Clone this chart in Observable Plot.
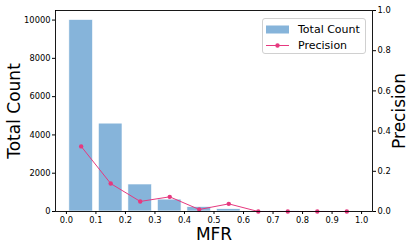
<!DOCTYPE html>
<html>
<head>
<meta charset="utf-8">
<script src="https://cdn.jsdelivr.net/npm/d3@7"></script>
<script src="https://cdn.jsdelivr.net/npm/@observablehq/plot@0.6"></script>
<style>
  body { margin: 0; background: #fff; font-family: "DejaVu Sans", sans-serif; }
  #wrap { position: relative; width: 415px; height: 249px; }
  #legend { position: absolute; left: 262px; top: 18px; width: 104px; height: 36px;
    border: 1px solid #d0d0d0; border-radius: 3px; background: rgba(255,255,255,0.8);
    font: 11px "DejaVu Sans", sans-serif; color: #000; box-sizing: border-box; }
  #legend .row { position: absolute; left: 3px; height: 12px; display: flex; align-items: center; }
  #legend .row span { margin-left: 9px; white-space: nowrap; }
</style>
</head>
<body>
<div id="wrap"></div>
<script>
const mfr = [0.05, 0.15, 0.25, 0.35, 0.45, 0.55, 0.65, 0.75, 0.85, 0.95];
const totalCount = [10000, 4590, 1410, 620, 230, 120, 30, 10, 5, 2];
const precision = [0.324, 0.139, 0.05, 0.073, 0.01, 0.038, 0.0, 0.0, 0.0, 0.0];
const xTicks = [0, 0.1, 0.2, 0.3, 0.4, 0.5, 0.6, 0.7, 0.8, 0.9, 1.0];
const leftTicks = [0, 2000, 4000, 6000, 8000, 10000];
const rightTicks = [0, 0.2, 0.4, 0.6, 0.8, 1.0];
const barWidth = 0.08;
const countMax = 10500;

const barColor = "#86b4da";
const lineColor = "#e6397f";

const rows = mfr.map((m, i) => ({
  x1: m - barWidth / 2, x2: m + barWidth / 2, m, count: totalCount[i],
  p: precision[i] * countMax
}));

const chart = Plot.plot({
  width: 415,
  height: 249,
  marginLeft: 55,
  marginRight: 43,
  marginTop: 10,
  marginBottom: 38,
  style: { fontFamily: "DejaVu Sans, sans-serif", fontSize: "8.3px", color: "#000", background: "#fff" },
  x: { domain: [-0.037, 1.037] },
  y: { domain: [0, countMax] },
  marks: [
    Plot.rectY(rows, { x1: "x1", x2: "x2", y: "count", fill: barColor, stroke: "#fff", strokeWidth: 0.6 }),
    Plot.line(rows, { x: "m", y: "p", stroke: lineColor, strokeWidth: 1 }),
    Plot.dot(rows, { x: "m", y: "p", fill: lineColor, r: 2.2 }),
    Plot.frame({ stroke: "#000", strokeWidth: 0.9 }),
    Plot.axisX({ ticks: xTicks, tickFormat: d => d.toFixed(1), tickSize: 3, tickPadding: 2.5, label: null, fontSize: 8.3 }),
    Plot.axisY({ anchor: "left", ticks: leftTicks, tickFormat: d => String(d), tickSize: 3, tickPadding: 2, label: null, fontSize: 8.3 }),
    Plot.axisY({ anchor: "right", ticks: rightTicks.map(v => v * countMax), tickFormat: d => (d / countMax).toFixed(1), tickSize: 3, tickPadding: 2, label: null, fontSize: 8.3 }),
    Plot.text(["Total Count"], { frameAnchor: "left", rotate: -90, dx: -41, fontSize: 17, textAnchor: "middle", lineAnchor: "middle" }),
    Plot.text(["Precision"], { frameAnchor: "right", rotate: -90, dx: 27, fontSize: 17, textAnchor: "middle", lineAnchor: "middle" }),
    Plot.text(["MFR"], { frameAnchor: "bottom", dy: 23, fontSize: 17, textAnchor: "middle", lineAnchor: "middle" })
  ]
});

const wrap = document.getElementById("wrap");
wrap.appendChild(chart);

const legend = document.createElement("div");
legend.id = "legend";
legend.innerHTML = `
  <div class="row" style="top:4px"><svg width="23" height="9"><rect x="0" y="0.5" width="23" height="8" fill="${barColor}"/></svg><span>Total Count</span></div>
  <div class="row" style="top:20px"><svg width="23" height="9"><line x1="0" y1="4.5" x2="23" y2="4.5" stroke="${lineColor}" stroke-width="1"/><circle cx="11.5" cy="4.5" r="2.2" fill="${lineColor}"/></svg><span>Precision</span></div>`;
wrap.appendChild(legend);
</script>
</body>
</html>
